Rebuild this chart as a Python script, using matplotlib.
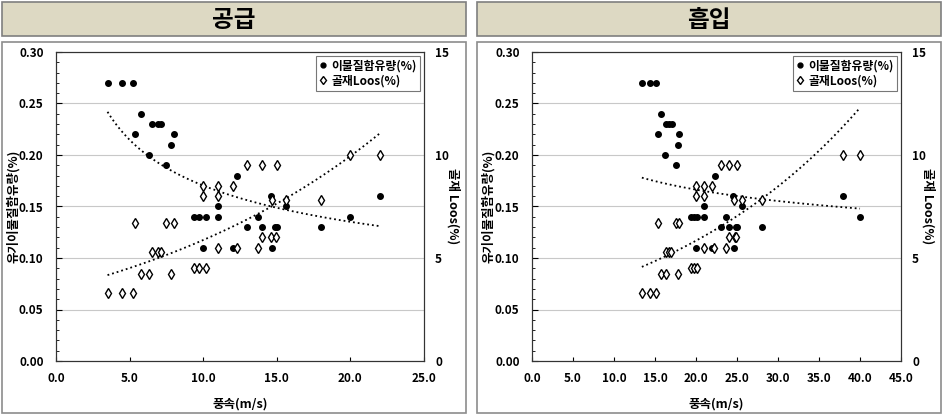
import numpy as np
import matplotlib
matplotlib.use('Agg')
from matplotlib import pyplot as plt
from matplotlib.patches import Rectangle
from matplotlib.lines import Line2D
from matplotlib.ticker import MultipleLocator, FormatStrFormatter

plt.rcParams['font.family'] = ['Noto Sans CJK KR', 'DejaVu Sans']
plt.rcParams['font.weight'] = 'bold'

titles = ['공급', '흡입']
xlabel = '풍속(m/s)'
ylabel = '유기이물질함유량(%)'
y2label = '골재 Loos(%)'
names = ['이물질함유량(%)', '골재Loos(%)']

# 공급 - 이물질함유량
sup_fx = [3.5, 4.5, 5.2, 5.8, 5.4, 6.5, 6.95, 7.1, 8.0, 7.8, 6.3, 7.5, 12.3, 14.6, 22.0,
          11.0, 15.6, 9.4, 9.7, 10.2, 11.0, 13.7, 20.0, 13.0, 14.0, 14.9, 15.0, 18.0,
          10.0, 12.0, 14.7]
sup_fy = [0.27, 0.27, 0.27, 0.24, 0.22, 0.23, 0.23, 0.23, 0.22, 0.21, 0.20, 0.19, 0.18, 0.16, 0.16,
          0.15, 0.15, 0.14, 0.14, 0.14, 0.14, 0.14, 0.14, 0.13, 0.13, 0.13, 0.13, 0.13,
          0.11, 0.11, 0.11]
# 공급 - 골재Loos
sup_dx = [3.5, 4.5, 5.2, 5.8, 6.3, 7.8, 6.5, 6.95, 7.1, 9.4, 9.7, 10.2, 5.4, 7.5, 8.0,
          10.0, 11.0, 12.0, 10.0, 11.0, 13.0, 14.0, 15.0, 14.7, 15.6, 18.0, 20.0, 22.0,
          14.0, 14.6, 14.95, 11.0, 12.3, 13.7]
sup_dy = [3.3, 3.3, 3.3, 4.2, 4.2, 4.2, 5.3, 5.3, 5.3, 4.5, 4.5, 4.5, 6.7, 6.7, 6.7,
          8.5, 8.5, 8.5, 8.0, 8.0, 9.5, 9.5, 9.5, 7.8, 7.8, 7.8, 10.0, 10.0,
          6.0, 6.0, 6.0, 5.5, 5.5, 5.5]

# 흡입 - 이물질함유량
suc_fx = [13.4, 14.45, 15.1, 15.75, 15.35, 16.4, 16.7, 17.1, 17.95, 17.75, 16.24, 17.5, 22.3,
          24.5, 37.9, 21.0, 25.6, 19.4, 19.75, 20.15, 21.0, 23.65, 40.0,
          23.0, 24.0, 24.85, 24.95, 28.0, 19.95, 21.9, 24.65]
suc_fy = sup_fy
# 흡입 - 골재Loos
suc_dx = [13.4, 14.4, 15.1, 15.7, 16.3, 17.75, 16.4, 16.7, 17.0, 19.4, 19.75, 20.15, 15.35, 17.5, 17.95,
          19.95, 21.0, 21.9, 19.95, 21.0, 23.0, 24.0, 25.0, 24.65, 25.6, 28.0, 37.9, 40.0,
          24.0, 24.8, 24.9, 21.0, 22.2, 23.7]
suc_dy = sup_dy

# trendline coefficients
# 이물질: power  y = a * x^b ;  골재Loos: exponential  y = a * exp(b x)
sup_f_trend = (0.3676, -0.334)
sup_d_trend = (3.467, 0.0527)
suc_f_trend = (0.276, -0.169)
suc_d_trend = (2.776, 0.0372)

xmaxes = [25, 45]

fig = plt.figure(figsize=(9.43, 4.15), dpi=100)
W, H = 943.0, 415.0

def box(x0, y0, x1, y1, fc, ec):
    fig.patches.append(Rectangle((x0 / W, 1 - y1 / H), (x1 - x0) / W, (y1 - y0) / H,
                                 transform=fig.transFigure, facecolor=fc, edgecolor=ec,
                                 linewidth=1.2, zorder=-5))

panels = [(2, 466, 56, 424), (477, 941, 532, 901)]
data = [(sup_fx, sup_fy, sup_dx, sup_dy), (suc_fx, suc_fy, suc_dx, suc_dy)]
trends = [(sup_f_trend, sup_d_trend), (suc_f_trend, suc_d_trend)]

for i in range(2):
    bx0, bx1, ax0, ax1_ = panels[i]
    box(bx0, 2, bx1, 36, '#DDD9C3', '#7F7F7F')
    box(bx0, 42, bx1, 413, 'white', '#8C8C8C')
    fig.text((bx0 + bx1) / 2 / W, 1 - 20 / H, titles[i], ha='center', va='center',
             fontsize=17, fontweight='bold')

    ax = fig.add_axes([ax0 / W, 1 - 361 / H, (ax1_ - ax0) / W, 309 / H])
    ax2 = ax.twinx()
    fx, fy, dx, dy = data[i]
    aw = float(ax1_ - ax0)

    ax.set_xlim(0, xmaxes[i])
    ax.set_ylim(0, 0.30)
    ax2.set_ylim(0, 15)
    ax.xaxis.set_major_locator(MultipleLocator(5))
    ax.xaxis.set_major_formatter(FormatStrFormatter('%.1f'))
    ax.yaxis.set_major_locator(MultipleLocator(0.05))
    ax.yaxis.set_minor_locator(MultipleLocator(0.01))
    ax.yaxis.set_major_formatter(FormatStrFormatter('%.2f'))
    ax2.yaxis.set_major_locator(MultipleLocator(5))
    ax.grid(axis='y', color='#C8C8C8', linewidth=0.8)
    ax.set_axisbelow(True)
    ax.tick_params(axis='both', which='both', direction='in', labelsize=8.5)
    ax.tick_params(axis='y', which='major', length=4, pad=9)
    ax.tick_params(axis='y', which='minor', length=2)
    ax.tick_params(axis='x', length=3, pad=8)
    ax2.tick_params(axis='y', length=0, labelsize=8.5, pad=8)
    for lab in ax.get_xticklabels() + ax.get_yticklabels() + ax2.get_yticklabels():
        lab.set_fontweight('bold')
    for sp in ax.spines.values():
        sp.set_color('#333333')
    for sp in ax2.spines.values():
        sp.set_color('#333333')

    ax.set_xlabel(xlabel, fontsize=9, fontweight='bold')
    ax.xaxis.set_label_coords(0.5, -37 / 309.0)
    ax.set_ylabel(ylabel, fontsize=9, fontweight='bold', va='center')
    ax.yaxis.set_label_coords((bx0 + 11 - ax0) / aw, 0.5)
    ax2.set_ylabel(y2label, fontsize=9, fontweight='bold', rotation=270, va='center')
    ax2.yaxis.set_label_coords((bx0 + 451 - ax0) / aw, 0.5)

    fx = np.array(fx); fy = np.array(fy)
    dx = np.array(dx); dy = np.array(dy)
    ax.plot(fx, fy, 'o', color='black', markersize=4, zorder=3)
    ax2.plot(dx, dy, 'd', markerfacecolor='white', markeredgecolor='black',
             markeredgewidth=1.0, markersize=5.2, zorder=3)

    (fa, fb), (da, db) = trends[i]
    tx = np.linspace(fx.min(), fx.max(), 100)
    ax.plot(tx, fa * tx ** fb, ':', color='black', linewidth=1.3)
    tx2 = np.linspace(dx.min(), dx.max(), 100)
    ax2.plot(tx2, da * np.exp(db * tx2), ':', color='black', linewidth=1.3)

    handles = [Line2D([], [], marker='o', color='black', linestyle='none', markersize=3.5),
               Line2D([], [], marker='d', markerfacecolor='white', markeredgecolor='black',
                      linestyle='none', markersize=4.5)]
    leg = ax2.legend(handles, names, loc='upper right', fontsize=8.5, frameon=True,
                     fancybox=False, edgecolor='#555555', handlelength=0.6,
                     handletextpad=0.4, borderpad=0.3, labelspacing=0.2,
                     borderaxespad=0.3)
    leg.get_frame().set_linewidth(0.8)
    for t in leg.get_texts():
        t.set_fontweight('bold')

fig.savefig('out.png', dpi=100)
